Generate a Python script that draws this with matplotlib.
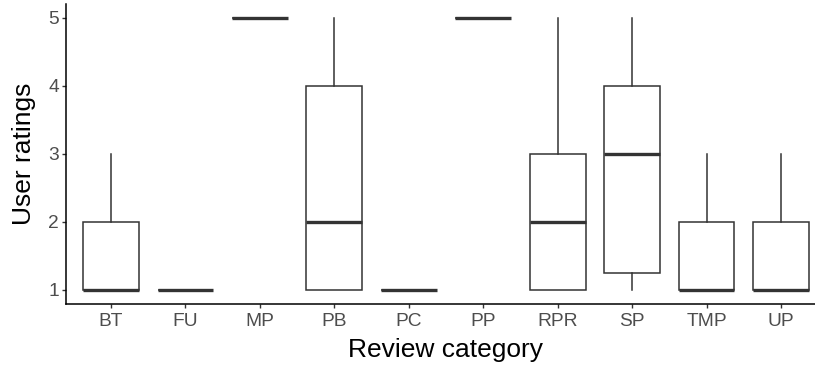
import matplotlib
matplotlib.use("Agg")
import matplotlib.pyplot as plt

plt.rcParams['font.family'] = ['Liberation Sans', 'DejaVu Sans']

categories = ["BT", "FU", "MP", "PB", "PC", "PP", "RPR", "SP", "TMP", "UP"]
whisker_low = [1, 1, 5, 1, 1, 5, 1, 1, 1, 1]
q1 = [1, 1, 5, 1, 1, 5, 1, 1.25, 1, 1]
median = [1, 1, 5, 2, 1, 5, 2, 3, 1, 1]
q3 = [2, 1, 5, 4, 1, 5, 3, 4, 2, 2]
whisker_high = [3, 1, 5, 5, 1, 5, 5, 5, 3, 3]

W, H, DPI = 815, 366, 100
fig = plt.figure(figsize=(W / DPI, H / DPI), dpi=DPI)
fig.patch.set_facecolor("white")

# panel spans x from 0.4 to 10.6 (discrete expansion of 0.6 on each side)
left_px, right_px = 66.4, 825.6
top_px, bottom_px = 4.4, 303.6
ax = fig.add_axes([left_px / W, 1 - bottom_px / H,
                   (right_px - left_px) / W, (bottom_px - top_px) / H])

stats = []
for i, c in enumerate(categories):
    stats.append(dict(label=c, whislo=whisker_low[i], q1=q1[i], med=median[i],
                      q3=q3[i], whishi=whisker_high[i], fliers=[]))

line_col = "#333333"
lw = 1.1
ax.bxp(stats, positions=range(1, len(categories) + 1), widths=0.75,
       showcaps=False, showfliers=False, patch_artist=True,
       boxprops=dict(facecolor="white", edgecolor=line_col, linewidth=lw),
       whiskerprops=dict(color=line_col, linewidth=lw),
       medianprops=dict(color=line_col, linewidth=2.4, solid_capstyle="butt"))

ax.set_xlim(0.4, 10.6)
ax.set_ylim(0.8, 5.2)
ax.set_yticks([1, 2, 3, 4, 5])
ax.set_xticks(range(1, len(categories) + 1))
ax.set_xticklabels(categories)

for s in ["top", "right"]:
    ax.spines[s].set_visible(False)
for s in ["left", "bottom"]:
    ax.spines[s].set_color("black")
    ax.spines[s].set_linewidth(1.1)

ax.tick_params(axis="both", length=3.0, width=1.0, color=line_col,
               labelcolor="#4D4D4D", labelsize=13.8)
ax.tick_params(axis="x", pad=3.5)
ax.tick_params(axis="y", pad=2.2)

ax.set_xlabel("Review category", fontsize=19, color="black", labelpad=6)
ax.set_ylabel("User ratings", fontsize=19, color="black", labelpad=8.6)

fig.savefig("out.png", dpi=DPI, facecolor="white")
